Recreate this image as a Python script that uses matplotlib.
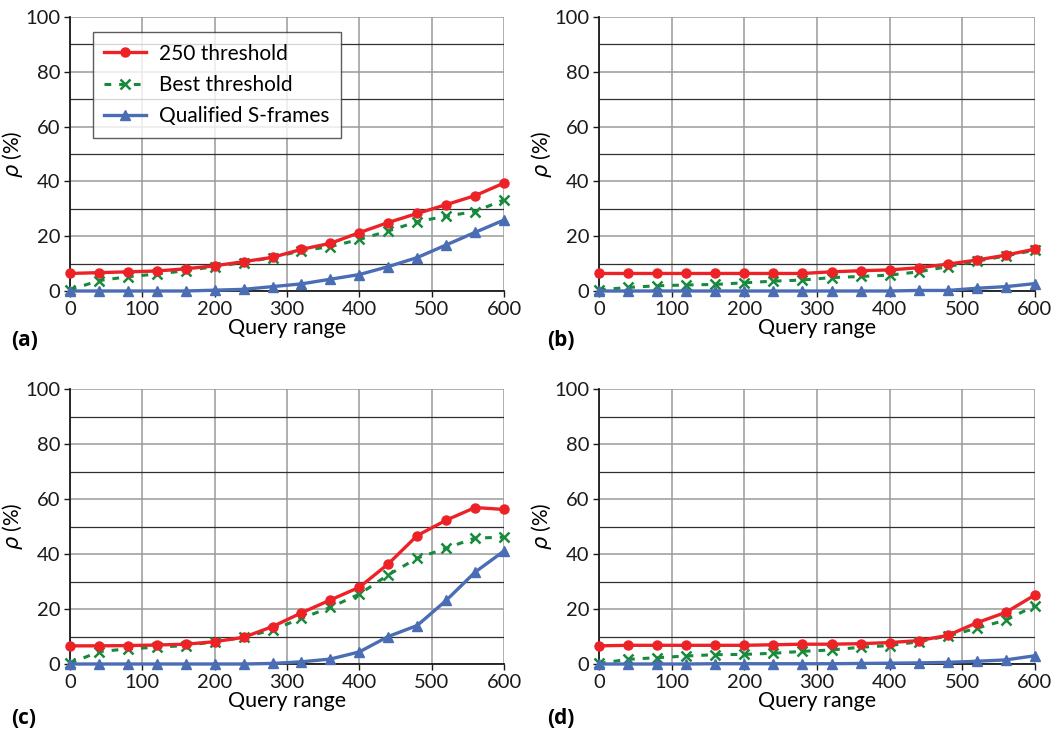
import matplotlib
matplotlib.use("Agg")
import matplotlib.pyplot as plt
import numpy as np

plt.rcParams['font.family'] = ['Lato', 'DejaVu Sans']
plt.rcParams['mathtext.fontset'] = 'dejavusans'

# query range, sampled every 40
query_range = [0, 40, 80, 120, 160, 200, 240, 280, 320, 360, 400, 440, 480, 520, 560, 600]

# (a)
a_250 = [6.4, 6.7, 7.0, 7.3, 8.1, 9.2, 10.7, 12.3, 15.2, 17.4, 21.3, 25.0, 28.3, 31.5, 34.8, 39.4]
a_best = [0.4, 3.8, 5.2, 6.2, 7.4, 8.9, 10.4, 12.2, 14.7, 16.2, 18.8, 21.9, 25.3, 27.3, 29.0, 33.3]
a_qual = [0.0, 0.0, 0.0, 0.0, 0.0, 0.3, 0.6, 1.6, 2.6, 4.3, 6.0, 8.9, 12.2, 16.8, 21.4, 25.9]

# (b)
b_250 = [6.4, 6.4, 6.4, 6.4, 6.4, 6.4, 6.4, 6.4, 7.0, 7.4, 7.7, 8.5, 9.8, 11.3, 13.1, 15.3]
b_best = [0.4, 1.3, 1.9, 2.2, 2.4, 3.0, 3.6, 4.0, 4.9, 5.3, 5.8, 7.0, 8.9, 10.9, 12.8, 14.9]
b_qual = [0.0, 0.0, 0.0, 0.0, 0.0, 0.0, 0.0, 0.0, 0.0, 0.0, 0.0, 0.2, 0.2, 1.0, 1.6, 2.7]

# (c)
c_250 = [6.6, 6.6, 6.7, 6.9, 7.2, 8.1, 9.7, 13.6, 18.6, 23.3, 27.9, 36.4, 46.7, 52.3, 56.9, 56.2]
c_best = [0.2, 4.5, 5.5, 6.1, 6.7, 8.1, 9.7, 12.4, 16.6, 20.6, 25.4, 32.4, 38.5, 42.1, 45.8, 46.1]
c_qual = [0.0, 0.0, 0.0, 0.0, 0.0, 0.0, 0.0, 0.2, 0.8, 1.8, 4.4, 10.0, 14.0, 23.1, 33.4, 41.1]

# (d)
d_250 = [6.6, 6.8, 6.8, 6.8, 6.8, 6.8, 7.0, 7.2, 7.2, 7.4, 7.8, 8.5, 10.4, 15.0, 18.8, 25.1]
d_best = [0.2, 1.7, 2.3, 2.9, 3.4, 3.5, 3.9, 4.6, 5.1, 6.1, 6.7, 8.1, 10.2, 13.0, 16.0, 21.2]
d_qual = [0.0, 0.0, 0.0, 0.0, 0.1, 0.1, 0.1, 0.1, 0.1, 0.2, 0.3, 0.4, 0.6, 1.0, 1.5, 3.0]

panels = [
    ('(a)', a_250, a_best, a_qual),
    ('(b)', b_250, b_best, b_qual),
    ('(c)', c_250, c_best, c_qual),
    ('(d)', d_250, d_best, d_qual),
]
series_labels = ['250 threshold', 'Best threshold', 'Qualified S-frames']

RED = '#ec2227'
GREEN = '#178a3c'
BLUE = '#4a6db4'

W, H = 1058, 733
fig = plt.figure(figsize=(W / 100, H / 100), dpi=100)

# axes boxes in pixels: (left, top of 100, right, bottom at 0)
boxes = [(70, 17, 504, 291), (599, 17, 1035, 291),
         (70, 389, 504, 664), (599, 389, 1035, 664)]
label_pos = [(11, 340), (547, 340), (11, 718), (547, 718)]

for i, (name, r250, best, qual) in enumerate(panels):
    l, t, r, b = boxes[i]
    ax = fig.add_axes([l / W, 1 - b / H, (r - l) / W, (b - t) / H])
    ax.set_xlim(0, 600)
    ax.set_ylim(0, 100)

    # odd gridlines (darker) and regular ones
    for y in [10, 30, 50, 70, 90]:
        ax.axhline(y, color='#303030', lw=0.9, zorder=1)
    ax.set_xticks(np.arange(0, 601, 100))
    ax.set_yticks(np.arange(0, 101, 20))
    ax.grid(True, color='#9a9a9a', lw=1.1, zorder=0)
    ax.set_axisbelow(True)

    ax.plot(query_range, r250, color=RED, lw=2.4, marker='o', ms=6.5,
            label=series_labels[0], zorder=4, clip_on=False)
    ax.plot(query_range, best, color=GREEN, lw=2.2, ls=(0, (2.2, 2.6)),
            marker='x', ms=7, mew=1.8, label=series_labels[1], zorder=3, clip_on=False)
    ax.plot(query_range, qual, color=BLUE, lw=2.4, marker='^', ms=7,
            label=series_labels[2], zorder=3, clip_on=False)

    for side in ['top', 'right']:
        ax.spines[side].set_visible(False)
    for side in ['left', 'bottom']:
        ax.spines[side].set_color('#1a1a1a')
        ax.spines[side].set_linewidth(1.3)
    ax.tick_params(direction='out', length=4, width=1.0, colors='#1a1a1a',
                   labelsize=14.5, pad=3)
    ax.set_xlabel('Query range', fontsize=15.5, labelpad=0)
    ax.set_ylabel(r'$\rho$ (%)', fontsize=15, labelpad=0)

    fig.text(label_pos[i][0] / W, 1 - label_pos[i][1] / H, name,
             fontsize=15, fontweight='bold', family='Open Sans',
             va='center', ha='left')

    if i == 0:
        leg = ax.legend(loc='upper left', bbox_to_anchor=(0.053, 0.945),
                        borderaxespad=0, fontsize=15, frameon=True, fancybox=False,
                        handlelength=2.0, borderpad=0.55, labelspacing=0.55,
                        handletextpad=0.6)
        leg.get_frame().set_edgecolor('#333333')
        leg.get_frame().set_linewidth(1.0)

fig.savefig('out.png', dpi=100)
